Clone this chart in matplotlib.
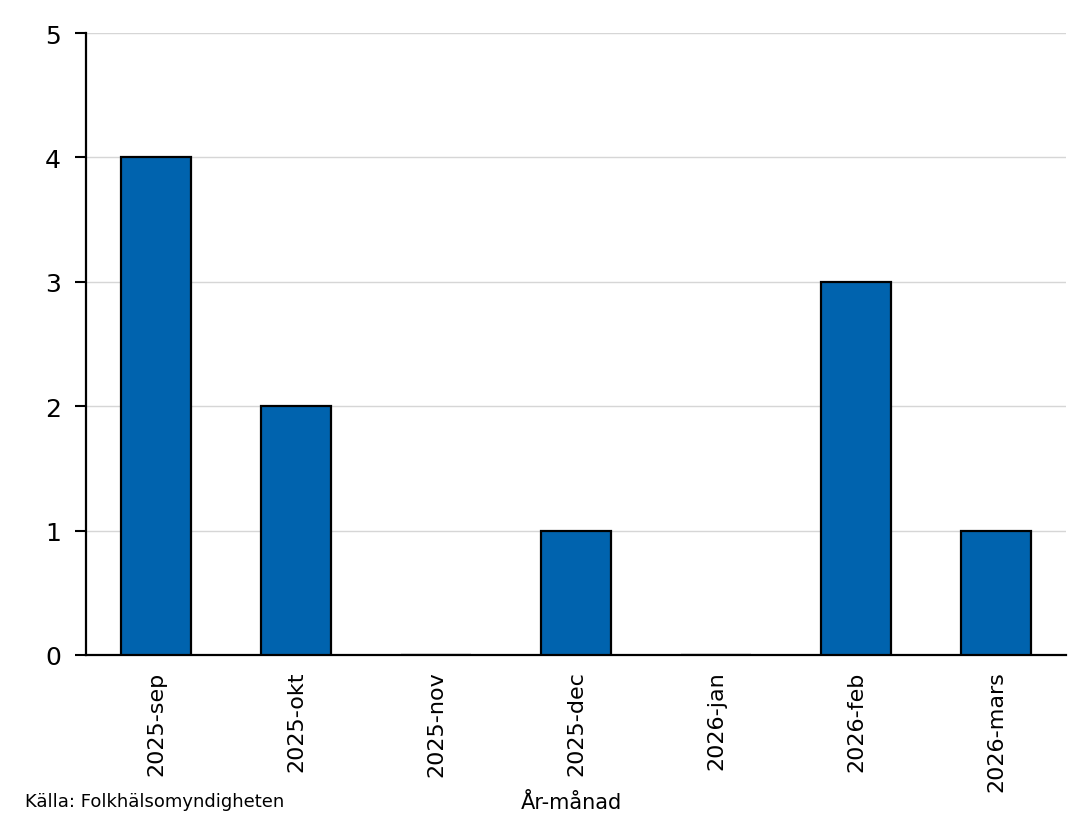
import matplotlib
matplotlib.use("Agg")
import matplotlib.pyplot as plt

months = ["2025-sep", "2025-okt", "2025-nov", "2025-dec", "2026-jan", "2026-feb", "2026-mars"]
counts = [4, 2, 0, 1, 0, 3, 1]
y_ticks = [0, 1, 2, 3, 4, 5]

plt.rcParams['font.family'] = ['Verdana', 'DejaVu Sans']

fig = plt.figure(figsize=(10.82, 8.28), dpi=100)
ax = fig.add_axes([86 / 1082, 1 - 656 / 828, 980 / 1082, 622 / 828])

x = range(len(months))
ax.bar(x, counts, width=0.5, color='#0063ae', edgecolor='black', linewidth=1.6, zorder=3)

ax.set_xlim(-0.5, len(months) - 0.5)
ax.set_ylim(0, 5)
ax.set_yticks(y_ticks)
ax.set_xticks(list(x))
ax.set_xticklabels(months, rotation=90)
ax.tick_params(axis='x', length=0, labelsize=16, pad=11)
ax.tick_params(axis='y', length=8, width=1.5, labelsize=18, pad=10, direction='out')

ax.grid(axis='y', color='#d6d6d6', linewidth=1, zorder=0)
for side in ['top', 'right']:
    ax.spines[side].set_visible(False)
for side in ['left', 'bottom']:
    ax.spines[side].set_linewidth(1.6)

ax.set_xlabel("År-månad", fontsize=15)
ax.xaxis.set_label_coords(0.495, -0.22)
fig.text(25 / 1082, 1 - 802 / 828, "Källa: Folkhälsomyndigheten", fontsize=13, va='center', ha='left')

fig.savefig("out.png", dpi=100)
